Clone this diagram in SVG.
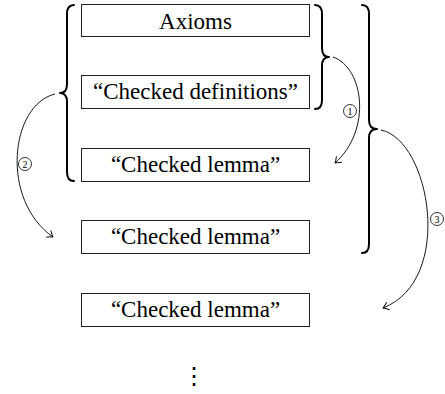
<svg xmlns="http://www.w3.org/2000/svg" width="445" height="394" viewBox="0 0 445 394">
<style>
.box{fill:#fff;stroke:#222;stroke-width:1}
.lbl{font-family:"Liberation Serif","DejaVu Serif",serif;font-size:23px;text-anchor:middle;fill:#000}
.brace{fill:none;stroke:#000;stroke-width:2;stroke-linecap:round;stroke-linejoin:round}
.arc{fill:none;stroke:#000;stroke-width:0.9}
.num circle{fill:#fff;stroke:#000;stroke-width:0.8}
.num text{font-family:"Liberation Serif","DejaVu Serif",serif;font-size:10px;text-anchor:middle;fill:#000}
</style>
<defs>
<marker id="arr" viewBox="-7 -5 9 10" refX="0" refY="0" markerWidth="9" markerHeight="10" orient="auto" markerUnits="userSpaceOnUse">
<path d="M-5.5,-4 Q-2,-1 0,0 Q-2,1 -5.5,4" fill="none" stroke="#000" stroke-width="0.9"/>
</marker>
</defs>
<g id="n-axioms"><rect class="box" x="81.5" y="4.5" width="228" height="32"/><text class="lbl" x="195.5" y="28.5">Axioms</text></g>
<g id="n-defs"><rect class="box" x="81.5" y="75.5" width="228" height="33"/><text class="lbl" x="195.5" y="98.5">“Checked definitions”</text></g>
<g id="n-lemma1"><rect class="box" x="81.5" y="148.5" width="228" height="33"/><text class="lbl" x="195.5" y="171.5">“Checked lemma”</text></g>
<g id="n-lemma2"><rect class="box" x="81.5" y="220.5" width="228" height="33"/><text class="lbl" x="195.5" y="243.5">“Checked lemma”</text></g>
<g id="n-lemma3"><rect class="box" x="81.5" y="293.5" width="228" height="33"/><text class="lbl" x="195.5" y="316.5">“Checked lemma”</text></g>
<g id="n-dots"><text class="lbl" x="194" y="384" style="font-family:'DejaVu Serif',serif;font-size:24px">⋮</text></g>
<g id="braces">
<path class="brace" d="M74,5 Q67,5 67,14 L67,84 Q67,93 60,93 Q67,93 67,102 L67,172 Q67,181 74,181"/>
<path class="brace" d="M315,5 Q322,5 322,14 L322,48 Q322,57 329,57 Q322,57 322,66 L322,100 Q322,109 315,109"/>
<path class="brace" d="M362,5 Q369,5 369,14 L369,120 Q369,129 377,129 Q369,129 369,138 L369,244 Q369,253 362,253"/>
</g>
<g id="connectors">
<path class="arc" marker-end="url(#arr)" d="M333,57 C364,68 372,130 335,163"/>
<path class="arc" marker-end="url(#arr)" d="M55,94 C10,105 0,200 53,237"/>
<path class="arc" marker-end="url(#arr)" d="M381,130 C430,140 455,280 383,308"/>
</g>
<g class="num" id="labels">
<g><circle cx="350" cy="111" r="6.5"/><text x="350" y="114.5">1</text></g>
<g><circle cx="25" cy="164" r="6.5"/><text x="25" y="167.5">2</text></g>
<g><circle cx="437" cy="219" r="6.5"/><text x="437" y="222.5">3</text></g>
</g>
</svg>
